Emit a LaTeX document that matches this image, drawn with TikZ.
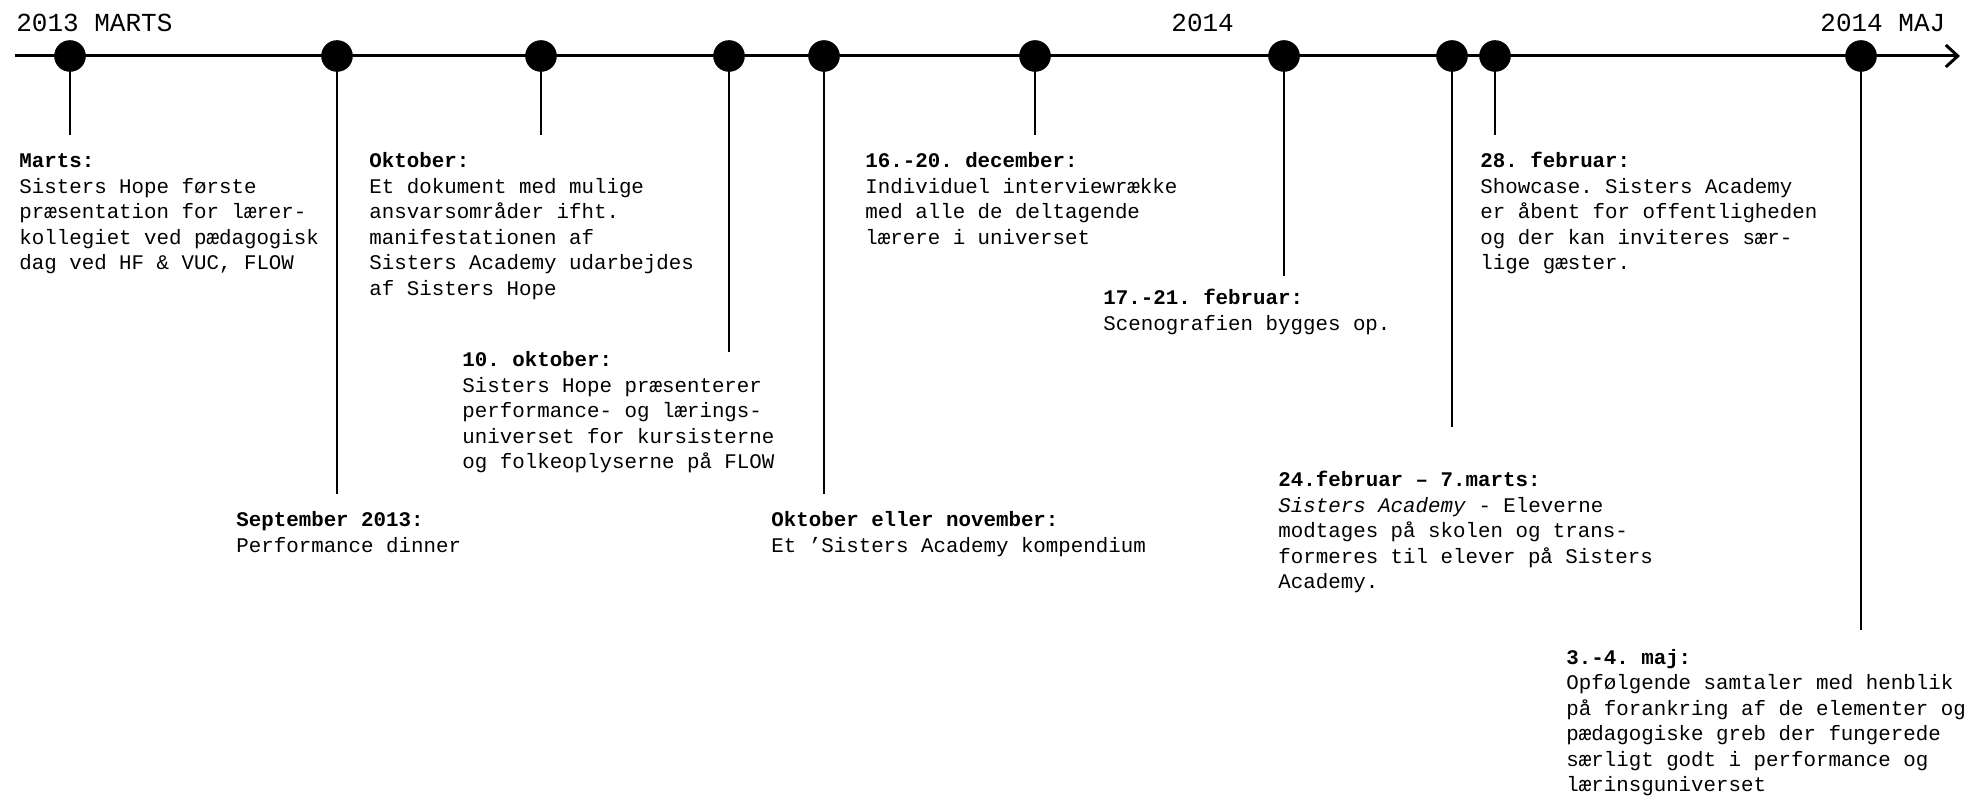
\documentclass[tikz,border=0pt]{standalone}
\usepackage{fontspec}
\setmainfont{Liberation Mono}
\usetikzlibrary{arrows.meta}
\frenchspacing
\begin{document}
\begin{tikzpicture}[x=0.5pt,y=-0.5pt,
  dot/.style={circle,fill=black,minimum size=15.8pt,inner sep=0pt},
  evt/.style={anchor=north west,align=left,inner sep=0pt,font=\fontsize{10.4pt}{12.75pt}\selectfont\frenchspacing},
  yr/.style={anchor=base west,inner sep=0pt,font=\fontsize{13pt}{15pt}\selectfont},
  stem/.style={line width=1.4pt},
  axis/.style={line width=1.5pt}]
\useasboundingbox (0,0) rectangle (1980,796);
% axis
\coordinate (start) at (15,56);
\coordinate (end) at (1960,56);
\draw[axis,-{Straight Barb[length=6pt,width=11pt]}] (start) -- (end);
% year labels
\node[yr] (y1) at (16,32) {2013 MARTS};
\node[yr] (y2) at (1171,32) {2014};
\node[yr] (y3) at (1820,32) {2014 MAJ};
% dots
\node[dot] (d1) at (70,56) {};
\node[dot] (d2) at (337,56) {};
\node[dot] (d3) at (541,56) {};
\node[dot] (d4) at (729,56) {};
\node[dot] (d5) at (824,56) {};
\node[dot] (d6) at (1035,56) {};
\node[dot] (d7) at (1284,56) {};
\node[dot] (d8) at (1452,56) {};
\node[dot] (d9) at (1495,56) {};
\node[dot] (d10) at (1861,56) {};
% stem ends
\coordinate (s1) at (70,135);
\coordinate (s2) at (337,494);
\coordinate (s3) at (541,135);
\coordinate (s4) at (729,352);
\coordinate (s5) at (824,494);
\coordinate (s6) at (1035,135);
\coordinate (s7) at (1284,276);
\coordinate (s8) at (1452,427);
\coordinate (s9) at (1495,135);
\coordinate (s10) at (1861,630);
\foreach \i in {1,...,10} \draw[stem] (d\i.center) -- (s\i);
% events (top = first baseline - 17.85)
\node[evt] (e1) at (19,149.5) {\strut\textbf{Marts:}\\Sisters Hope første\\præsentation for lærer-\\kollegiet ved pædagogisk\\dag ved HF \& VUC, FLOW};
\node[evt] (e3) at (369,149.5) {\strut\textbf{Oktober:}\\Et dokument med mulige\\ansvarsområder ifht.\\manifestationen af\\Sisters Academy udarbejdes\\af Sisters Hope};
\node[evt] (e4) at (462,348.5) {\strut\textbf{10. oktober:}\\Sisters Hope præsenterer\\performance- og lærings-\\universet for kursisterne\\og folkeoplyserne på FLOW};
\node[evt] (e2) at (236,508.5) {\strut\textbf{September 2013:}\\Performance dinner};
\node[evt] (e6) at (865,149.5) {\strut\textbf{16.-20. december:}\\Individuel interviewrække\\med alle de deltagende\\lærere i universet};
\node[evt] (e5) at (771,508.5) {\strut\textbf{Oktober eller november:}\\Et ’Sisters Academy kompendium};
\node[evt] (e7) at (1103,286.5) {\strut\textbf{17.-21. februar:}\\Scenografien bygges op.};
\node[evt] (e9) at (1480,149.5) {\strut\textbf{28. februar:}\\Showcase. Sisters Academy\\er åbent for offentligheden\\og der kan inviteres sær-\\lige gæster.};
\node[evt] (e8) at (1278,468.5) {\strut\textbf{24.februar – 7.marts:}\\\textit{Sisters Academy} - Eleverne\\modtages på skolen og trans-\\formeres til elever på Sisters\\Academy.};
\node[evt] (e10) at (1566,646) {\strut\textbf{3.-4. maj:}\\Opfølgende samtaler med henblik\\på forankring af de elementer og\\pædagogiske greb der fungerede\\særligt godt i performance og\\lærinsguniverset};
\end{tikzpicture}
\end{document}
